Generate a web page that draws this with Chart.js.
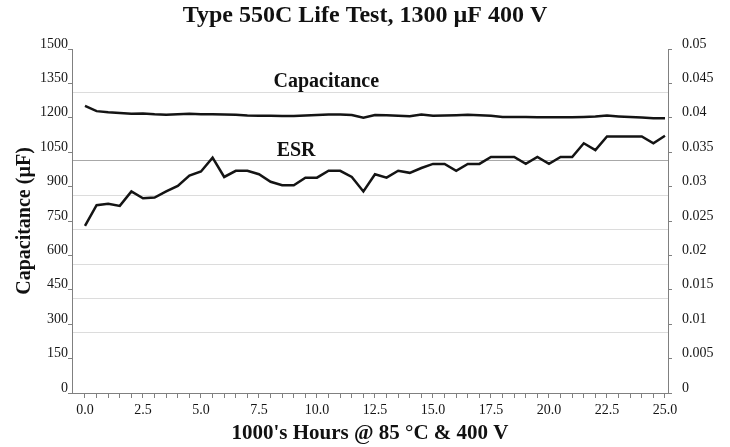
<!DOCTYPE html>
<html>
<head>
<meta charset="utf-8">
<script src="https://cdn.jsdelivr.net/npm/chart.js@4/dist/chart.umd.min.js"></script>
<style>
  html, body { margin: 0; padding: 0; background: #fff; overflow: hidden; }
  #wrap { width: 730px; height: 447px; position: relative; }
</style>
</head>
<body>
<div id="wrap"><canvas id="grafico" width="730" height="447"></canvas></div>
<script>
// Horas (miles) de cada lectura
const horas = [0, 0.5, 1, 1.5, 2, 2.5, 3, 3.5, 4, 4.5, 5, 5.5, 6, 6.5, 7, 7.5, 8, 8.5, 9, 9.5,
  10, 10.5, 11, 11.5, 12, 12.5, 13, 13.5, 14, 14.5, 15, 15.5, 16, 16.5, 17, 17.5, 18, 18.5, 19, 19.5,
  20, 20.5, 21, 21.5, 22, 22.5, 23, 23.5, 24, 24.5, 25];

// Capacitancia (uF)
const capacitancia = [1252, 1229, 1224, 1221, 1218, 1219, 1215, 1213, 1215, 1218, 1216, 1216, 1214, 1213, 1210, 1209, 1209, 1208, 1208, 1210,
  1212, 1214, 1214, 1212, 1200, 1212, 1211, 1209, 1207, 1214, 1209, 1210, 1211, 1213, 1211, 1209, 1204, 1203, 1203, 1202,
  1202, 1202, 1202, 1204, 1206, 1210, 1206, 1203, 1201, 1198, 1198];

// ESR (ohm)
const esr = [0.0243, 0.0273, 0.0275, 0.0272, 0.0293, 0.0283, 0.0284, 0.0293, 0.0301, 0.0316, 0.0322, 0.0342, 0.0314, 0.0323, 0.0323, 0.0318, 0.0307, 0.0302, 0.0302, 0.0313,
  0.0313, 0.0323, 0.0323, 0.0314, 0.0293, 0.0318, 0.0313, 0.0323, 0.0320, 0.0327, 0.0333, 0.0333, 0.0323, 0.0333, 0.0333, 0.0343, 0.0343, 0.0343, 0.0333, 0.0343,
  0.0333, 0.0343, 0.0343, 0.0363, 0.0353, 0.0373, 0.0373, 0.0373, 0.0373, 0.0363, 0.0374];

// Marcas de los ejes
const ticksIzq = [0, 150, 300, 450, 600, 750, 900, 1050, 1200, 1350, 1500];
const ticksDer = [0, 0.005, 0.01, 0.015, 0.02, 0.025, 0.03, 0.035, 0.04, 0.045, 0.05];
const ticksX = horas;
const lineasGuia = [262, 412, 562, 712, 862, 1012, 1162, 1312];

// Etiquetas dentro del grafico
const etiquetas = [
  { texto: 'Capacitance', x: 10.4, y: 1356 },
  { texto: 'ESR', x: 9.1, y: 1055 }
];

const serif = '"Liberation Serif", "DejaVu Serif", serif';
const gris = '#808080';

const etiquetasPlugin = {
  id: 'etiquetas',
  afterDatasetsDraw(chart) {
    const ctx = chart.ctx;
    const sx = chart.scales.x, sy = chart.scales.y;
    ctx.save();
    ctx.font = 'bold 20px ' + serif;
    ctx.fillStyle = '#111';
    ctx.textAlign = 'center';
    ctx.textBaseline = 'middle';
    etiquetas.forEach(e => ctx.fillText(e.texto, sx.getPixelForValue(e.x), sy.getPixelForValue(e.y)));
    ctx.restore();
  }
};

const ctx = document.getElementById('grafico').getContext('2d');

new Chart(ctx, {
  type: 'line',
  data: {
    datasets: [{
      label: 'Capacitance',
      data: horas.map((h, i) => ({ x: h, y: capacitancia[i] })),
      borderColor: '#141414',
      borderWidth: 2.5,
      pointRadius: 0,
      yAxisID: 'y'
    }, {
      label: 'ESR',
      data: horas.map((h, i) => ({ x: h, y: esr[i] })),
      borderColor: '#141414',
      borderWidth: 2.5,
      pointRadius: 0,
      yAxisID: 'y1'
    }]
  },
  options: {
    responsive: false,
    animation: false,
    layout: { padding: 0 },
    plugins: {
      legend: { display: false },
      tooltip: { enabled: false },
      title: {
        display: true,
        text: 'Type 550C Life Test, 1300 µF 400 V',
        color: '#111',
        font: { family: serif, size: 24, weight: 'bold' },
        padding: { top: 1, bottom: 19.2 }
      }
    },
    scales: {
      x: {
        type: 'linear',
        min: -0.56,
        max: 25.13,
        afterBuildTicks: s => { s.ticks = ticksX.map(v => ({ value: v })); },
        afterFit: s => { s.height = 54; },
        border: { color: gris, width: 1 },
        grid: { drawOnChartArea: false, color: gris, tickLength: 5 },
        ticks: {
          autoSkip: false,
          maxRotation: 0,
          padding: 4,
          color: '#151515',
          font: { family: serif, size: 14 },
          callback: v => (v % 2.5 === 0 ? v.toFixed(1) : '')
        },
        title: {
          display: true,
          text: "1000's Hours @ 85 °C & 400 V",
          color: '#111',
          font: { family: serif, size: 21, weight: 'bold' },
          padding: { top: 0, bottom: 1 }
        }
      },
      y: {
        position: 'left',
        min: 0,
        max: 1500,
        afterBuildTicks: s => { s.ticks = ticksIzq.map(v => ({ value: v })); },
        afterFit: s => { s.width = 72; },
        border: { color: gris, width: 1 },
        grid: { drawOnChartArea: false, color: gris, tickLength: 4 },
        ticks: {
          padding: 0,
          labelOffset: -5,
          color: '#151515',
          font: { family: serif, size: 14 },
          callback: v => String(v)
        },
        title: {
          display: true,
          text: 'Capacitance (µF)',
          color: '#111',
          font: { family: serif, size: 20, weight: 'bold' },
          padding: { top: 13, bottom: 0 }
        }
      },
      g: {
        position: 'left',
        min: 0,
        max: 1500,
        afterBuildTicks: s => { s.ticks = lineasGuia.map(v => ({ value: v })); },
        afterFit: s => { s.width = 0; },
        border: { display: false },
        grid: {
          drawTicks: false,
          lineWidth: 1,
          color: c => {
            const v = c.tick && c.tick.value;
            if (v === 1162) return 'rgba(0,0,0,0)';
            if (v === 1012) return '#a8a8a8';
            return '#dcdcdc';
          }
        },
        ticks: { display: false }
      },
      y1: {
        position: 'right',
        min: 0,
        max: 0.05,
        afterBuildTicks: s => { s.ticks = ticksDer.map(v => ({ value: v })); },
        afterFit: s => { s.width = 62; },
        border: { color: gris, width: 1 },
        grid: { drawOnChartArea: false, color: gris, tickLength: 4 },
        ticks: {
          padding: 10,
          labelOffset: -5,
          color: '#151515',
          font: { family: serif, size: 14 },
          callback: v => String(+v.toFixed(3))
        }
      }
    }
  },
  plugins: [etiquetasPlugin]
});
</script>
</body>
</html>
